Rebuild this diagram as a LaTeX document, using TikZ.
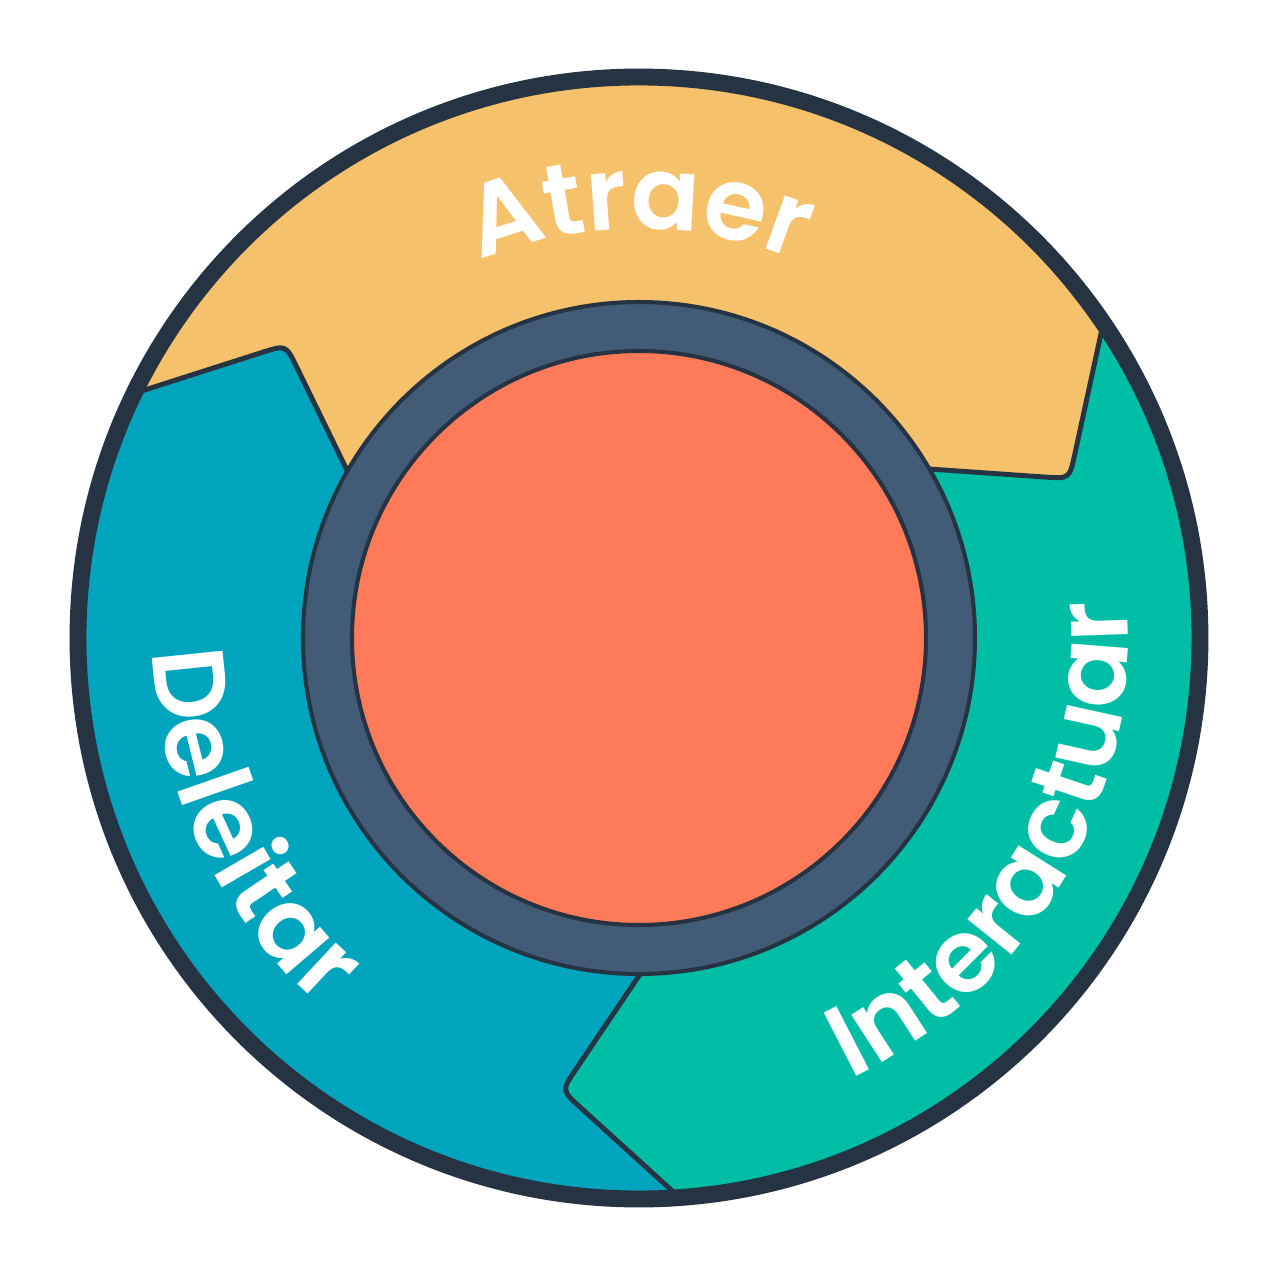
\documentclass[tikz,border=0pt]{standalone}
\usepackage{fontspec}
\setmainfont{Poppins}
\IfFontExistsTF{Poppins SemiBold}{%
  \newfontfamily\lblfam{Poppins SemiBold}%
  \newfontfamily\lblfamn{Poppins SemiBold}[LetterSpace=-2]%
  \newfontfamily\lblfamw{Poppins SemiBold}[LetterSpace=5]}{%
  \newfontfamily\lblfam{Poppins}[FakeBold=1.5]%
  \newfontfamily\lblfamn{Poppins}[FakeBold=1.5,LetterSpace=-2]%
  \newfontfamily\lblfamw{Poppins}[FakeBold=1.5,LetterSpace=5]}
\usetikzlibrary{calc,decorations.text}
\definecolor{cyellow}{HTML}{F5C26B}
\definecolor{cteal}{HTML}{00BDA5}
\definecolor{cblue}{HTML}{00A4BD}
\definecolor{corange}{HTML}{FF7A59}
\definecolor{cslate}{HTML}{425B76}
\definecolor{cdark}{HTML}{253342}
\newcommand\lblsize{\fontsize{58}{64}\selectfont}
\tikzset{
  bline/.style={draw=cdark, line width=2.8pt, line join=round},
  ringline/.style={draw=cdark, line width=2.3pt},
  lbl/.style={decorate, decoration={text along path, text align=center, text color=white}}
}
\begin{document}
\begin{tikzpicture}[x=0.02cm,y=0.02cm]
\useasboundingbox (-639,-638) rectangle (637,638);
\fill[white] (-639,-638) rectangle (637,638);
\def\R{556}
\def\ri{336}
\foreach \k/\r in {0/0,1/120,2/240}{
  \pgfmathsetmacro\ao{33.65+\r}
  \pgfmathsetmacro\at{20.3+\r}
  \pgfmathsetmacro\ai{30.2+\r}
  \coordinate (out\k) at (\ao:\R);
  \coordinate (tip\k) at (\at:459);
  \coordinate (in\k) at (\ai:\ri);
  \coordinate (a\k) at ($(tip\k)!0.5cm!(out\k)$);
  \coordinate (b\k) at ($(tip\k)!0.5cm!(in\k)$);
}
% Atraer
\fill[cyellow] (out1) arc[start angle=153.65, end angle=33.65, radius=\R] -- (a0) .. controls (tip0) .. (b0) -- (in0) arc[start angle=30.2, end angle=150.2, radius=\ri] -- (b1) .. controls (tip1) .. (a1) -- cycle;
% Interactuar
\fill[cteal] (out0) arc[start angle=33.65, end angle=-86.35, radius=\R] -- (a2) .. controls (tip2) .. (b2) -- (in2) arc[start angle=-89.8, end angle=30.2, radius=\ri] -- (b0) .. controls (tip0) .. (a0) -- cycle;
% Deleitar
\fill[cblue] (out2) arc[start angle=273.65, end angle=153.65, radius=\R] -- (a1) .. controls (tip1) .. (b1) -- (in1) arc[start angle=150.2, end angle=270.2, radius=\ri] -- (b2) .. controls (tip2) .. (a2) -- cycle;
\foreach \k in {0,1,2}
  \draw[bline] (out\k) -- (a\k) .. controls (tip\k) .. (b\k) -- (in\k);
% inner ring and hub
\draw[ringline, fill=cslate] (0,0) circle[radius=336];
\draw[ringline, fill=corange] (0,0) circle[radius=287];
% outer rim
\draw[cdark, line width=9.6pt] (0,0) circle[radius=561];
% labels
\path[lbl, decoration={text={|\lblfamn\lblsize|Atraer}}] (130:409) arc[start angle=130, end angle=50, radius=409];
\path[lbl, decoration={text={|\lblfamw\lblsize|Deleitar}}] (156:486) arc[start angle=156, end angle=255, radius=486];
\path[lbl, decoration={text={|\lblfam\lblsize|Interactuar}}] (-80:489) arc[start angle=-80, end angle=20, radius=489];
\end{tikzpicture}
\end{document}
